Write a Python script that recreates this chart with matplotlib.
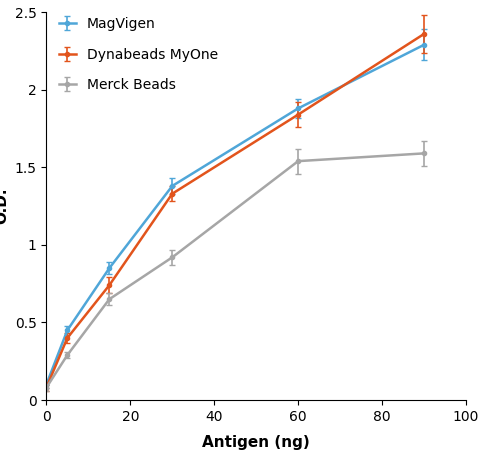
import matplotlib
matplotlib.use("Agg")
import matplotlib.pyplot as plt

antigen = [0, 5, 15, 30, 60, 90]

magvigen = [0.10, 0.45, 0.85, 1.38, 1.88, 2.29]
magvigen_err = [0.02, 0.03, 0.04, 0.05, 0.06, 0.10]

dynabeads = [0.08, 0.40, 0.74, 1.33, 1.84, 2.36]
dynabeads_err = [0.02, 0.03, 0.05, 0.05, 0.08, 0.12]

merck = [0.08, 0.29, 0.65, 0.92, 1.54, 1.59]
merck_err = [0.02, 0.02, 0.04, 0.05, 0.08, 0.08]

series = [
    ("MagVigen", magvigen, magvigen_err, "#4FA6D8"),
    ("Dynabeads MyOne", dynabeads, dynabeads_err, "#E2541C"),
    ("Merck Beads", merck, merck_err, "#A6A6A6"),
]

fig = plt.figure(figsize=(4.88, 4.69), dpi=100)
ax = fig.add_axes([0.095, 0.147, 0.86, 0.827])

for name, vals, err, col in series:
    ax.errorbar(antigen, vals, yerr=err, color=col, lw=1.8, marker="o", ms=3,
                capsize=2, elinewidth=1.2, label=name)

ax.set_xlim(0, 100)
ax.set_ylim(0, 2.5)
ax.set_xticks([0, 20, 40, 60, 80, 100])
ax.set_yticks([0, 0.5, 1, 1.5, 2, 2.5])
ax.set_yticklabels(["0", "0.5", "1", "1.5", "2", "2.5"])
ax.tick_params(labelsize=10)
ax.spines["top"].set_visible(False)
ax.spines["right"].set_visible(False)
ax.set_xlabel("Antigen (ng)", fontsize=11, fontweight="bold", labelpad=8)
ax.set_ylabel("O.D.", fontsize=11, fontweight="bold")
ax.legend(loc="upper left", frameon=False, fontsize=10, labelspacing=1.2,
          handlelength=1.2, bbox_to_anchor=(0.0, 1.02))

fig.savefig("out.png", dpi=100)
